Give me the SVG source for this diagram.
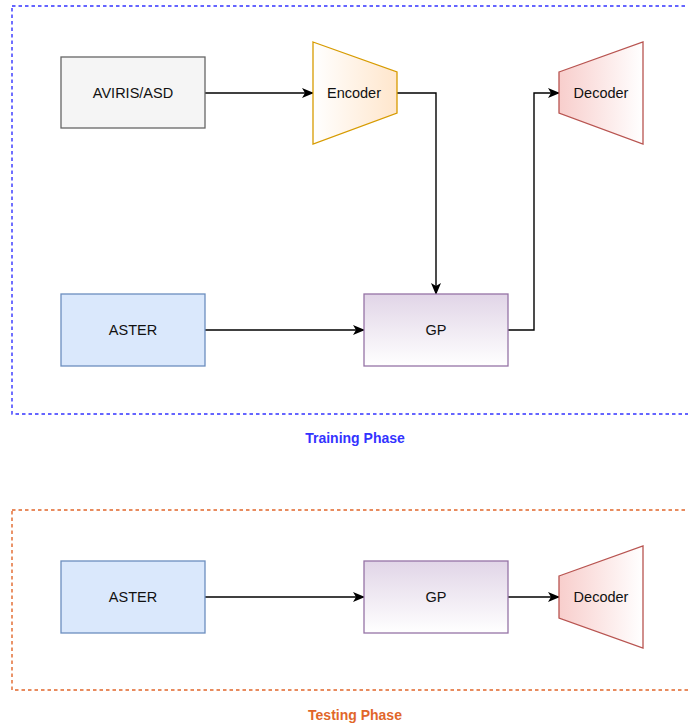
<svg xmlns="http://www.w3.org/2000/svg" width="688" height="726" viewBox="0 0 688 726">
<style>
.lbl{font-family:"Liberation Sans",Arial,sans-serif;font-size:14.5px;fill:#111;text-anchor:middle;dominant-baseline:central}
.ttl{font-family:"Liberation Sans",Arial,sans-serif;font-size:14px;font-weight:bold;text-anchor:middle}
.edge{fill:none;stroke:#000;stroke-width:1.4;marker-end:url(#arr)}
.frame{fill:none;stroke-width:1.4;stroke-dasharray:3.5 3}
</style>
<defs>
<marker id="arr" viewBox="0 0 12 12" refX="11" refY="6" markerWidth="12" markerHeight="12" markerUnits="userSpaceOnUse" orient="auto">
<path d="M0,1 L12,6 L0,11 L3,6 Z" fill="#000"/>
</marker>
<linearGradient id="gEnc" x1="0" y1="0" x2="1" y2="0"><stop offset="0" stop-color="#ffffff"/><stop offset="1" stop-color="#ffe6cc"/></linearGradient>
<linearGradient id="gDec" x1="0" y1="0" x2="1" y2="0"><stop offset="0" stop-color="#f8cecc"/><stop offset="1" stop-color="#ffffff"/></linearGradient>
<linearGradient id="gGP" x1="0" y1="0" x2="0" y2="1"><stop offset="0" stop-color="#e1d5e7"/><stop offset="1" stop-color="#ffffff"/></linearGradient>
</defs>

<g id="training-frame">
<rect class="frame" x="12" y="6" width="690" height="408" stroke="#3333ff"/>
<text class="ttl" x="355" y="443" fill="#3333ff">Training Phase</text>
</g>
<g id="testing-frame">
<rect class="frame" x="12" y="510" width="690" height="180" stroke="#e1662a"/>
<text class="ttl" x="355" y="720" fill="#e1662a">Testing Phase</text>
</g>

<g id="connectors">
<path class="edge" d="M205,93 H313"/>
<path class="edge" d="M397,93 H436 V294"/>
<path class="edge" d="M205,330 H364"/>
<path class="edge" d="M508,330 H534 V93 H559"/>
<path class="edge" d="M205,597 H364"/>
<path class="edge" d="M508,597 H559"/>
</g>

<g id="aviris">
<rect x="61" y="57" width="144" height="71" fill="#f5f5f5" stroke="#666666" stroke-width="1.3"/>
<text class="lbl" x="133" y="93">AVIRIS/ASD</text>
</g>
<g id="encoder">
<path d="M313,42 L397,72 L397,113 L313,144 Z" fill="url(#gEnc)" stroke="#d79b00" stroke-width="1.3"/>
<text class="lbl" x="354" y="93">Encoder</text>
</g>
<g id="decoder-train">
<path d="M559,72 L643,42 L643,144 L559,113 Z" fill="url(#gDec)" stroke="#b85450" stroke-width="1.3"/>
<text class="lbl" x="601" y="93">Decoder</text>
</g>
<g id="aster-train">
<rect x="61" y="294" width="144" height="72" fill="#dae8fc" stroke="#6c8ebf" stroke-width="1.3"/>
<text class="lbl" x="133" y="330">ASTER</text>
</g>
<g id="gp-train">
<rect x="364" y="294" width="144" height="72" fill="url(#gGP)" stroke="#9673a6" stroke-width="1.3"/>
<text class="lbl" x="436" y="330">GP</text>
</g>

<g id="aster-test">
<rect x="61" y="561" width="144" height="72" fill="#dae8fc" stroke="#6c8ebf" stroke-width="1.3"/>
<text class="lbl" x="133" y="597">ASTER</text>
</g>
<g id="gp-test">
<rect x="364" y="561" width="144" height="72" fill="url(#gGP)" stroke="#9673a6" stroke-width="1.3"/>
<text class="lbl" x="436" y="597">GP</text>
</g>
<g id="decoder-test">
<path d="M559,576 L643,546 L643,648 L559,618 Z" fill="url(#gDec)" stroke="#b85450" stroke-width="1.3"/>
<text class="lbl" x="601" y="597">Decoder</text>
</g>
</svg>
